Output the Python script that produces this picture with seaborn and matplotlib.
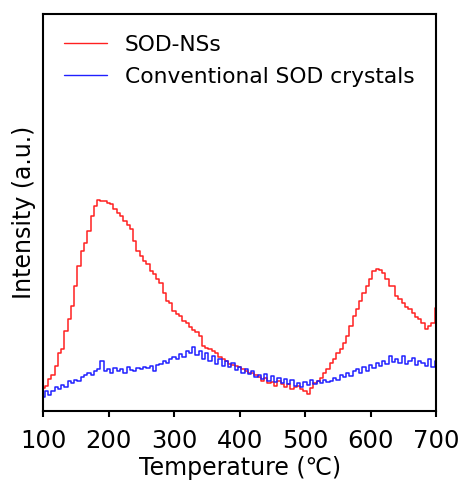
import numpy as np
import pandas as pd
import matplotlib
matplotlib.use("Agg")
import matplotlib.pyplot as plt
import seaborn as sns

temperature = list(range(100, 705, 5))

sod_ns = [23, 25, 32, 36, 45, 58, 62, 80, 92, 105, 125, 145, 160, 168, 180, 195, 205, 211, 210, 210,
          208, 207, 202, 198, 195, 190, 186, 182, 170, 160, 155, 150, 147, 140, 137, 132, 128, 118, 110, 108,
          100, 97, 95, 90, 88, 84, 81, 79, 75, 65, 63, 62, 60, 58, 54, 52, 50, 47, 46, 45,
          44, 42, 40, 38, 38, 36, 34, 30, 33, 28, 29, 25, 30, 27, 24, 27, 22, 24, 25, 22,
          20, 17, 23, 28, 30, 33, 38, 42, 48, 52, 58, 62, 68, 75, 85, 95, 102, 110, 118, 125,
          132, 140, 142, 141, 138, 132, 125, 125, 115, 112, 108, 104, 102, 98, 94, 92, 88, 82, 85, 88,
          103]

conventional = [14, 20, 16, 20, 24, 22, 26, 24, 30, 28, 31, 30, 34, 36, 38, 36, 40, 42, 50, 40,
                42, 38, 43, 40, 42, 38, 44, 41, 40, 43, 42, 44, 43, 45, 40, 46, 47, 50, 48, 52,
                54, 52, 57, 54, 60, 58, 64, 56, 60, 52, 58, 50, 55, 47, 52, 45, 50, 44, 48, 41,
                44, 38, 42, 37, 40, 34, 36, 32, 37, 30, 35, 29, 33, 28, 32, 27, 31, 25, 28, 24,
                29, 26, 31, 27, 30, 28, 31, 29, 30, 33, 31, 36, 34, 38, 35, 40, 42, 38, 44, 40,
                46, 43, 48, 45, 50, 47, 55, 49, 52, 48, 55, 47, 50, 53, 46, 50, 48, 45, 52, 44,
                50]

series_names = ["SOD-NSs", "Conventional SOD crystals"]
xticks = [100, 200, 300, 400, 500, 600, 700]

df = pd.DataFrame({
    "T": temperature * 2,
    "I": sod_ns + conventional,
    "sample": [series_names[0]] * len(temperature) + [series_names[1]] * len(temperature),
})

sns.set_style("white")
plt.rcParams["font.family"] = ["DejaVu Sans"]
plt.rcParams["text.color"] = "black"
plt.rcParams["axes.labelcolor"] = "black"
plt.rcParams["xtick.color"] = "black"
plt.rcParams["ytick.color"] = "black"

fig = plt.figure(figsize=(4.63, 4.82), dpi=100)
ax = fig.add_axes([0.093, 0.147, 0.849, 0.824])

sns.lineplot(data=df, x="T", y="I", hue="sample", palette=["#ff2020", "#2020ff"],
             drawstyle="steps-mid", linewidth=1.1, ax=ax, legend=True)

ax.set_xlim(100, 700)
ax.set_ylim(0, 397)
ax.set_xticks(xticks)
ax.set_yticks([])
ax.tick_params(axis="x", direction="out", length=4.5, width=1.5, labelsize=17.5, bottom=True,
               labelcolor="black", pad=8)
for s in ax.spines.values():
    s.set_linewidth(1.5)
    s.set_color("black")
ax.set_xlabel("Temperature (\u2103)", fontsize=17, color="black", labelpad=2.5)
ax.set_ylabel("Intensity (a.u.)", fontsize=17, color="black", labelpad=5)

leg = ax.legend(loc="upper left", frameon=False, fontsize=15.7, handlelength=2.0,
                borderaxespad=0.55, labelspacing=0.55)
for line in leg.get_lines():
    line.set_linewidth(1.0)
for t in leg.get_texts():
    t.set_color("black")

fig.savefig("out.png", dpi=100)
